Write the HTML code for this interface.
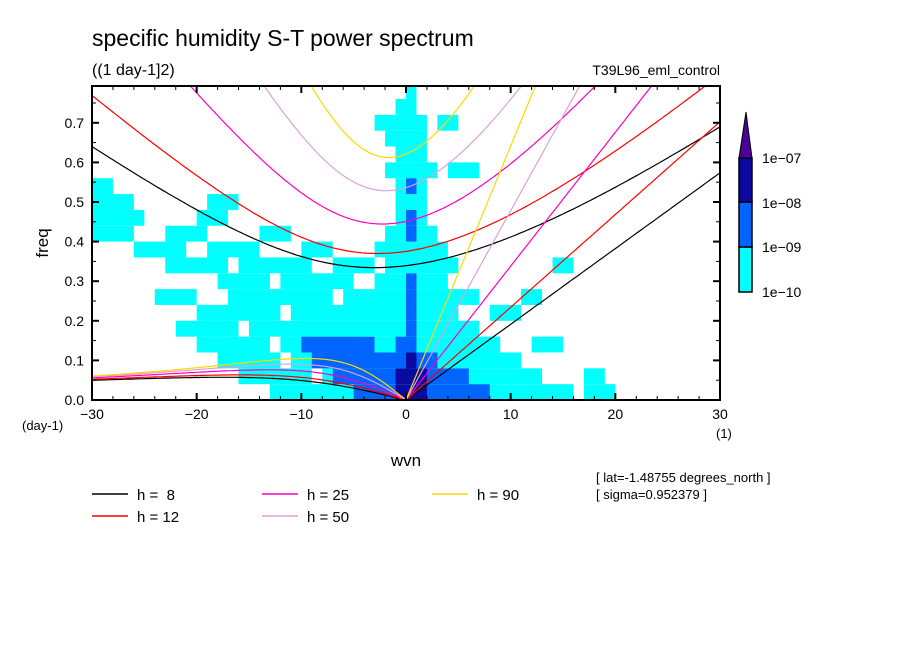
<!DOCTYPE html>
<html><head><meta charset="utf-8"><style>
body{margin:0;background:#fff;}
svg{display:block;font-family:"Liberation Sans",sans-serif;}
</style></head><body>
<svg id="chart" width="904" height="654" viewBox="0 0 904 654" xmlns="http://www.w3.org/2000/svg">
<rect width="904" height="654" fill="#fff"/>
<defs><clipPath id="pc"><rect x="92" y="86" width="628" height="314"/></clipPath></defs>
<text x="92" y="46" font-size="23">specific humidity S-T power spectrum</text>
<text x="92" y="75" font-size="16">((1 day-1]2)</text>
<text x="720" y="75" font-size="14" text-anchor="end">T39L96_eml_control</text>
<g id="field" clip-path="url(#pc)"></g>
<g id="curves" clip-path="url(#pc)"></g>
<rect x="92" y="86" width="628" height="314" fill="none" stroke="#000" stroke-width="2"/>
<g id="axes"></g>
<text transform="translate(48,243) rotate(-90)" font-size="17" text-anchor="middle">freq</text>
<text x="406" y="466" font-size="17" text-anchor="middle">wvn</text>
<text x="22" y="430" font-size="13">(day-1)</text>
<text x="716" y="438" font-size="13">(1)</text>
<g id="cbar"></g>
<g id="legend"></g>
<text x="596" y="482" font-size="13">[ lat=-1.48755 degrees_north ]</text>
<text x="596" y="499" font-size="13">[ sigma=0.952379 ]</text>
</svg>
<script>
const depths=[8,12,25,50,90];
const depthColors=["#000000","#ff0000","#ff00c0","#dda0dd","#ffd700"];
const xTicks=[-30,-20,-10,0,10,20,30];
const yTicks=[0,0.1,0.2,0.3,0.4,0.5,0.6,0.7];
const levelLabels=["1e-07","1e-08","1e-09","1e-10"];
const levelColors=["#00ffff","#0064ff","#0a0aa0","#4b0096"];
// power field: rows from freq 0 upward (0.04 each); runs [startCol,endCol,level], col = wvn+30
const fieldRows=[
[[17,27,1],[29,45,1],[25,37,2],[29,31,3],[47,49,1]],
[[14,20,1],[22,42,1],[23,35,2],[29,31,3],[47,48,1]],
[[12,17,1],[19,40,1],[21,32,2],[30,30,3]],
[[10,16,1],[18,25,1],[27,38,1],[20,26,2],[29,30,2],[42,44,1]],
[[8,13,1],[15,36,1],[30,30,2]],
[[10,17,1],[19,34,1],[30,30,2],[38,40,1]],
[[6,9,1],[13,22,1],[24,29,1],[30,36,1],[30,30,2],[41,42,1]],
[[12,16,1],[18,24,1],[27,33,1],[30,30,2]],
[[7,12,1],[14,20,1],[23,26,1],[28,34,1],[44,45,1]],
[[4,8,1],[11,15,1],[20,22,1],[27,33,1]],
[[0,3,1],[7,10,1],[16,18,1],[28,32,1],[30,30,2]],
[[0,4,1],[10,12,1],[29,31,1],[30,30,2]],
[[0,3,1],[11,13,1],[29,31,1]],
[[0,1,1],[29,31,1],[30,30,2]],
[[28,32,1],[34,36,1]],
[[29,31,1]],
[[28,31,1]],
[[27,31,1],[33,34,1]],
[[29,30,1]],
[[30,30,1]]
];
const NS="http://www.w3.org/2000/svg";
const X0=92,X1=720,Y0=400,Y1=86,FMAX=0.7929;
const xs=w=>X0+(w+30)/60*(X1-X0);
const ys=f=>Y0-f/FMAX*(Y0-Y1);
function mk(t,a,p){const e=document.createElementNS(NS,t);for(const k in a)e.setAttribute(k,a[k]);p.appendChild(e);return e;}
const field=document.getElementById('field');
fieldRows.forEach((runs,r)=>{runs.forEach(run=>{
 const x=xs(run[0]-30),x2=xs(run[1]-29),y=ys((r+1)*0.04),y2=ys(r*0.04);
 const el=mk('rect',{x:x,y:y,width:x2-x,height:y2-y,fill:levelColors[run[2]-1]},field);
 
 
});});
const g=9.81,a=6.371e6,beta=2*7.292e-5/a,cpd=86400/(2*Math.PI);
function roots(c,k){const p=-(c*c*k*k+3*beta*c),q=-beta*c*c*k;
 const m=2*Math.sqrt(-p/3),th=Math.acos(Math.max(-1,Math.min(1,3*q/(2*p)*Math.sqrt(-3/p))))/3;
 return [0,1,2].map(j=>m*Math.cos(th-2*Math.PI*j/3));}
const curves=document.getElementById('curves');
depths.forEach((h,i)=>{
 const c=Math.sqrt(g*h);let kel="",ig="",er="";
 for(let s=-30;s<=30.001;s+=0.25){const k=s/a;const r=roots(c,k).sort((u,v)=>u-v);
  const fi=r[2]*cpd;ig+=(ig?"L":"M")+xs(s).toFixed(1)+","+ys(fi).toFixed(1);
  if(s<=0){const fr=Math.abs(r[1])*cpd;er+=(er?"L":"M")+xs(s).toFixed(1)+","+ys(fr).toFixed(1);}
  if(s>=0){const fk=c*k*cpd;kel+=(kel?"L":"M")+xs(s).toFixed(1)+","+ys(fk).toFixed(1);}
 }
 [[ig,'ig-curve'],[er,'rossby-curve'],[kel,'kelvin-line']].forEach(([d,n])=>{
  const el=mk('path',{d:d,fill:"none",stroke:depthColors[i],"stroke-width":1.2},curves);
  
  
 });
});
const ax=document.getElementById('axes');
for(let w=-30;w<=30;w+=2){const maj=w%10===0,L=maj?7:4;
 mk('line',{x1:xs(w),x2:xs(w),y1:Y0,y2:Y0-L,stroke:"#000","stroke-width":maj?2:1},ax);
 mk('line',{x1:xs(w),x2:xs(w),y1:Y1,y2:Y1+L,stroke:"#000","stroke-width":maj?2:1},ax);}
for(let j=0;j<=15;j++){const f=j*0.05,maj=j%2===0,L=maj?7:4;
 mk('line',{x1:X0,x2:X0+L,y1:ys(f),y2:ys(f),stroke:"#000","stroke-width":maj?2:1},ax);
 mk('line',{x1:X1,x2:X1-L,y1:ys(f),y2:ys(f),stroke:"#000","stroke-width":maj?2:1},ax);}
xTicks.forEach(w=>{const t=mk('text',{x:xs(w),y:Y0+19,"font-size":14,"text-anchor":"middle"},ax);t.textContent=String(w).replace('-','\u2212');
 
 });
yTicks.forEach(f=>{const t=mk('text',{x:X0-8,y:ys(f)+5,"font-size":14,"text-anchor":"end"},ax);t.textContent=f.toFixed(1);
 
 });
const cb=document.getElementById('cbar');
const segY=[292,247,202,158];
for(let i=0;i<3;i++){const el=mk('rect',{x:739,y:segY[i+1],width:13,height:segY[i]-segY[i+1],fill:levelColors[i],stroke:"#000","stroke-width":1.5},cb);
 
 }
const tri=mk('polygon',{points:"739,158 752,158 746,112",fill:levelColors[3],stroke:"#000","stroke-width":1},cb);


levelLabels.forEach((l,i)=>{const t=mk('text',{x:762,y:[163,208,252,297][i],"font-size":14},cb);t.textContent=l.replace('-','\u2212');
 
 });
const lg=document.getElementById('legend');
const lpos=[[92,494],[92,516],[262,494],[262,516],[432,494]];
depths.forEach((h,i)=>{const [x,y]=lpos[i];
 const gg=mk('g',{},lg);
 
 
 mk('line',{x1:x,x2:x+36,y1:y,y2:y,stroke:depthColors[i],"stroke-width":1.5},gg);
 const t=mk('text',{x:x+45,y:y+6,"font-size":15},gg);t.textContent="h = "+(h<10?" ":"")+h;
 t.setAttribute('style','white-space:pre');});
</script>
</body></html>
